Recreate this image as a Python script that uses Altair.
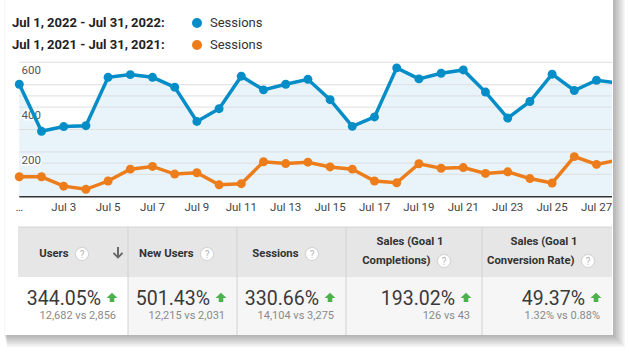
import altair as alt
import pandas as pd

# ---------------- data ----------------
days = list(range(1, 29))
sessions_2022 = [502, 292, 313, 317, 533, 545, 533, 489, 336, 393, 538, 477, 502, 524,
                 433, 314, 356, 575, 526, 551, 566, 467, 351, 425, 547, 474, 520, 507]
sessions_2021 = [89, 89, 47, 33, 70, 123, 135, 101, 107, 53, 58, 156, 148, 154,
                 133, 123, 70, 62, 147, 127, 130, 104, 111, 81, 61, 179, 144, 164]
tick_days = [1, 3, 5, 7, 9, 11, 13, 15, 17, 19, 21, 23, 25, 27]
tick_labels = ["…", "Jul 3", "Jul 5", "Jul 7", "Jul 9", "Jul 11", "Jul 13", "Jul 15",
               "Jul 17", "Jul 19", "Jul 21", "Jul 23", "Jul 25", "Jul 27"]
y_ticks = [200, 400, 600]
grid_values = [100, 150, 200, 300, 400, 450, 500, 600]
legend_ranges = ["Jul 1, 2022 - Jul 31, 2022:", "Jul 1, 2021 - Jul 31, 2021:"]
legend_metric = "Sessions"
headers_line1 = ["Users", "New Users", "Sessions", "Sales (Goal 1", "Sales (Goal 1"]
headers_line2 = ["", "", "", "Completions)", "Conversion Rate)"]
changes = ["344.05%", "501.43%", "330.66%", "193.02%", "49.37%"]
comparisons = ["12,682 vs 2,856", "12,215 vs 2,031", "14,104 vs 3,275", "126 vs 43", "1.32% vs 0.88%"]

# ---------------- style / layout ----------------
FONT = "Roboto"
BLUE = "#058dc7"
ORANGE = "#ed7d1a"
W, H = 612, 142
TOP = 55
xs = alt.Scale(domain=[1, 27], range=[19.3, 596.5], zero=False, nice=False)
ys = alt.Scale(domain=[0, 600], range=[141.7, 7.3], zero=False, nice=False)

base = alt.Chart(pd.DataFrame({"k": [0]}))
series = pd.DataFrame({"day": days, "s2022": sessions_2022, "s2021": sessions_2021})
ticks = pd.DataFrame({"day": tick_days, "label": tick_labels})
yt = pd.DataFrame({"v": y_ticks})
grid = pd.DataFrame({"v": grid_values})


def val(v):
    return alt.value(v)


def txt(s, x, y, **kw):
    kw.setdefault("font", FONT)
    return base.mark_text(text=s, **kw).encode(x=val(x), y=val(y))


layers = []

# card shadow + card
for i in range(1, 9):
    layers.append(base.mark_rect(color="#000000", opacity=0.04).encode(
        x=val(4 + i * 0.4), x2=val(613 + i * 1.5), y=val(-TOP), y2=val(280 + i * 1.5)))
layers.append(base.mark_rect(color="white").encode(x=val(5), x2=val(613), y=val(-TOP), y2=val(280)))

# legend
for r, (lab, col) in enumerate(zip(legend_ranges, [BLUE, ORANGE])):
    yy = 23 + r * 22 - TOP
    layers.append(txt(lab, 12, yy, align="left", baseline="middle", fontSize=13,
                      fontWeight="bold", color="#222222"))
    layers.append(base.mark_point(filled=True, size=100, opacity=1, color=col).encode(x=val(197), y=val(yy)))
    layers.append(txt(legend_metric, 210, yy, align="left", baseline="middle", fontSize=13, color="#333333"))

# plot
area = alt.Chart(series).mark_area(color="#e8f3fa", clip=True).encode(
    x=alt.X("day:Q", scale=xs, axis=None), y=alt.Y("s2022:Q", scale=ys, axis=None))
gridlines = alt.Chart(grid).mark_rule(color="#dcdfe2", strokeWidth=1).encode(
    y=alt.Y("v:Q", scale=ys, axis=None), x=val(19.3), x2=val(W))
baseline = base.mark_rule(color="#333333", strokeWidth=1.5).encode(x=val(19.3), x2=val(W), y=val(141.7))
ylab_halo = alt.Chart(yt).mark_text(align="left", baseline="middle", dy=8.7, fontSize=11.5, font=FONT,
                                    color="white", stroke="white", strokeWidth=3).encode(
    y=alt.Y("v:Q", scale=ys, axis=None), x=val(21.5), text="v:Q")
ylab = alt.Chart(yt).mark_text(align="left", baseline="middle", dy=8.7, fontSize=11.5, font=FONT,
                               color="#555555").encode(
    y=alt.Y("v:Q", scale=ys, axis=None), x=val(21.5), text="v:Q")
xlab = alt.Chart(ticks).mark_text(align="center", baseline="middle", fontSize=11.5, font=FONT,
                                  color="#444444").encode(
    x=alt.X("day:Q", scale=xs, axis=None), y=val(153), text="label:N")
layers += [area, gridlines, baseline, ylab_halo, ylab, xlab]
for fld, col in [("s2021", ORANGE), ("s2022", BLUE)]:
    enc = dict(x=alt.X("day:Q", scale=xs, axis=None), y=alt.Y(f"{fld}:Q", scale=ys, axis=None))
    layers.append(alt.Chart(series).mark_line(color=col, strokeWidth=3.5, clip=True).encode(**enc))
    layers.append(alt.Chart(series).mark_point(color=col, filled=True, opacity=1, size=80, clip=True).encode(**enc))

# table
col_edges = [18, 128, 237, 346, 482, 612]
T0, T1, T2 = 172, 222, 280
layers.append(base.mark_rect(color="#e6e6e6").encode(x=val(18), x2=val(612), y=val(T0), y2=val(T1)))
layers.append(base.mark_rect(color="#f6f6f6").encode(x=val(18), x2=val(612), y=val(T1), y2=val(T2)))
layers.append(base.mark_rect(color="#ffffff").encode(x=val(18), x2=val(128), y=val(T1), y2=val(T2)))
layers.append(base.mark_rule(color="#d4d4d4").encode(x=val(18), x2=val(612), y=val(T0)))
for xe in col_edges[1:-1]:
    layers.append(base.mark_rule(color="#d2d2d2").encode(x=val(xe), y=val(T0), y2=val(T2)))

qmark_x = [82, 207, 312, 444, 588]
line1_center = [None, None, None, 410, 544]
arrow_up = "M0,-0.85L1,0.1L0.42,0.1L0.42,0.8L-0.42,0.8L-0.42,0.1L-1,0.1Z"
arrow_down = ("M-0.16,-1L0.16,-1L0.16,0.35L0.62,-0.12L0.85,0.1L0,0.95L-0.85,0.1L-0.62,-0.12L-0.16,0.35Z")
for i in range(5):
    right = col_edges[i + 1]
    qx = qmark_x[i]
    if headers_line2[i]:
        hy = 206
        layers.append(txt(headers_line1[i], line1_center[i], 187, align="center", baseline="middle",
                          fontSize=11.3, fontWeight="bold", color="#333333"))
        layers.append(txt(headers_line2[i], qx - 13.5, hy, align="right", baseline="middle",
                          fontSize=11.3, fontWeight="bold", color="#333333"))
    else:
        hy = 199
        layers.append(txt(headers_line1[i], qx - 13.5, hy, align="right", baseline="middle",
                          fontSize=11.3, fontWeight="bold", color="#333333"))
    layers.append(base.mark_point(shape="circle", filled=True, size=175, color="white", opacity=1,
                                  stroke="#d6d6d6", strokeWidth=1.2).encode(x=val(qx), y=val(hy)))
    layers.append(txt("?", qx, hy + 0.5, align="center", baseline="middle", fontSize=10, color="#b5b5b5"))
    layers.append(txt(changes[i], right - 27, 243.5, align="right", baseline="middle", fontSize=19.5,
                      color="#3a3a3a"))
    layers.append(base.mark_point(shape=arrow_up, filled=True, size=120, opacity=1, color="#4cb04c").encode(
        x=val(right - 16), y=val(242.5)))
    layers.append(txt(comparisons[i], right - 12, 261, align="right", baseline="middle", fontSize=11,
                      color="#8a8a8a"))

layers.append(base.mark_point(shape=arrow_down, filled=True, size=150, opacity=1, color="#666666").encode(
    x=val(118), y=val(198)))

chart = alt.layer(*layers).properties(
    width=W, height=H,
    autosize=alt.AutoSizeParams(type="none"),
    padding={"left": 0, "top": TOP, "right": 629 - W, "bottom": 352 - TOP - H},
    background="white",
).configure_view(strokeWidth=0)

chart.save("out.html", embed_options={"renderer": "svg", "actions": False})
